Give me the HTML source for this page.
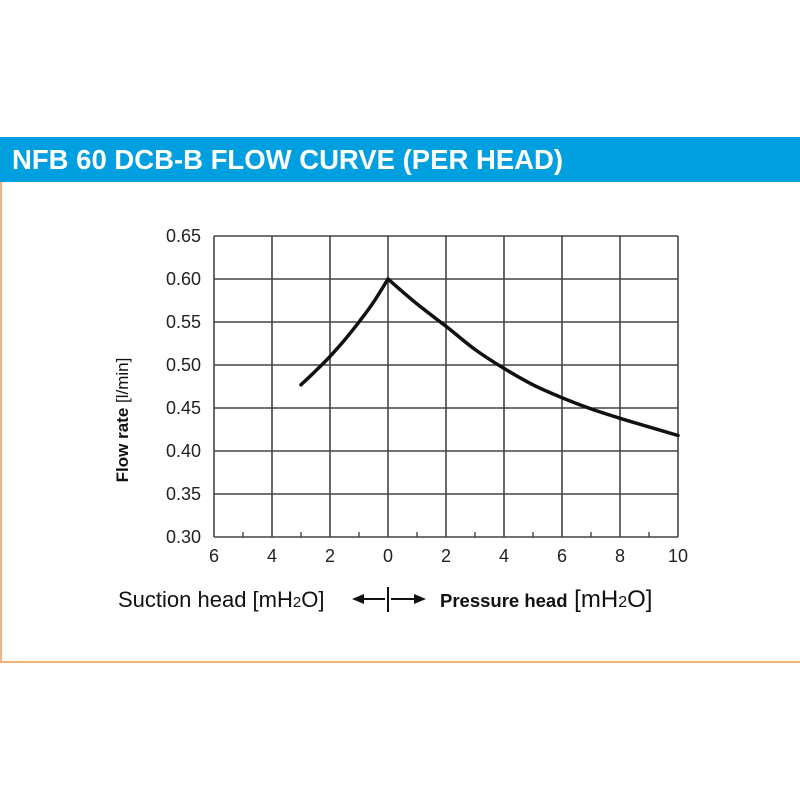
<!DOCTYPE html>
<html><head><meta charset="utf-8"><style>
body{margin:0;width:800px;height:800px;background:#fff;position:relative;font-family:"Liberation Sans",Arial,sans-serif;overflow:hidden}
#hdr{position:absolute;left:0;top:137px;width:800px;height:45px;background:#009fe0;color:#fff;font-weight:bold;font-size:27.5px;line-height:45px;padding-left:12px;box-sizing:border-box}
#panel{position:absolute;left:0;top:182px;width:800px;height:481px;border-left:2px solid #f3b27a;border-bottom:2px solid #f3b27a;box-sizing:border-box}
</style></head><body>
<div id="hdr">NFB 60 DCB-B FLOW CURVE (PER HEAD)</div>
<div id="panel"></div>
<svg id="c" width="800" height="800" style="position:absolute;left:0;top:0"></svg>
<script>
const xTicks=[-6,-4,-2,0,2,4,6,8,10];
const xTickLabels=["6","4","2","0","2","4","6","8","10"];
const yTicks=[0.30,0.35,0.40,0.45,0.50,0.55,0.60,0.65];
const suctionX=[-3,-2.5,-2,-1.5,-1,-0.5,0];
const suctionY=[0.477,0.493,0.51,0.529,0.55,0.573,0.60];
const pressureX=[0,1,2,3,4,5,6,7,8,9,10];
const pressureY=[0.60,0.571,0.545,0.518,0.496,0.477,0.462,0.449,0.438,0.428,0.418];
const NS="http://www.w3.org/2000/svg";
const svg=document.getElementById('c');
const X0=214,X1=678,Y0=537,Y1=236;
const sx=v=>X0+(v+6)/16*(X1-X0);
const sy=v=>Y0-(v-0.30)/0.35*(Y0-Y1);
function mk(t,a,p){const e=document.createElementNS(NS,t);for(const k in a)e.setAttribute(k,a[k]);(p||svg).appendChild(e);return e;}
function smooth(xs,ys){
 const P=xs.map((x,i)=>[sx(x),sy(ys[i])]);
 let d='M'+P[0][0].toFixed(1)+','+P[0][1].toFixed(1);
 for(let i=0;i<P.length-1;i++){
  const p0=P[Math.max(i-1,0)],p1=P[i],p2=P[i+1],p3=P[Math.min(i+2,P.length-1)];
  const c1=[p1[0]+(p2[0]-p0[0])/6,p1[1]+(p2[1]-p0[1])/6];
  const c2=[p2[0]-(p3[0]-p1[0])/6,p2[1]-(p3[1]-p1[1])/6];
  d+='C'+c1.map(v=>v.toFixed(1)).join(',')+' '+c2.map(v=>v.toFixed(1)).join(',')+' '+p2.map(v=>v.toFixed(1)).join(',');
 }
 return d;
}
const g=mk('g',{});


xTicks.forEach((v,i)=>{
 const l=mk('line',{x1:sx(v),x2:sx(v),y1:Y1,y2:Y0,stroke:'#444','stroke-width':1.6},g);
 
 
 const t=mk('text',{x:sx(v),y:Y0+25,'font-size':18,'text-anchor':'middle',fill:'#222'});
 t.textContent=xTickLabels[i];
 
 
 if(i<xTicks.length-1){const m=mk('line',{x1:sx(v+1),x2:sx(v+1),y1:Y0-5,y2:Y0,stroke:'#444','stroke-width':1.4},g);
 
 }
});
yTicks.forEach(v=>{
 const l=mk('line',{x1:X0,x2:X1,y1:sy(v),y2:sy(v),stroke:'#444','stroke-width':1.6},g);
 
 
 const t=mk('text',{x:X0-13,y:sy(v)+6,'font-size':18,'text-anchor':'end',fill:'#222'});
 t.textContent=v.toFixed(2);
 
 
});
const p1=mk('path',{d:smooth(suctionX,suctionY),fill:'none',stroke:'#111','stroke-width':3.5,'stroke-linecap':'round'});


const p2=mk('path',{d:smooth(pressureX,pressureY),fill:'none',stroke:'#111','stroke-width':3.5,'stroke-linecap':'round'});


const yt=mk('text',{x:0,y:0,transform:'translate(128,420) rotate(-90)','font-size':17,'text-anchor':'middle',fill:'#111'});
yt.innerHTML='<tspan font-weight="bold">Flow rate</tspan>  [l/min]';


const s=mk('text',{x:118,y:607,'font-size':22,fill:'#111'});
s.innerHTML='Suction head [mH<tspan font-size="15">2</tspan>O]';


const pr=mk('text',{x:440,y:607,'font-size':24,fill:'#111'});
pr.innerHTML='<tspan font-weight="bold" font-size="18.5">Pressure head</tspan> [mH<tspan font-size="16">2</tspan>O]';


const ar=mk('g',{stroke:'#111','stroke-width':2,fill:'#111'});


mk('line',{x1:388,x2:388,y1:587,y2:612},ar);
mk('line',{x1:360,x2:385,y1:599,y2:599},ar);
mk('polygon',{points:'352,599 364,594 364,604',stroke:'none'},ar);
mk('line',{x1:391,x2:416,y1:599,y2:599},ar);
mk('polygon',{points:'426,599 414,594 414,604',stroke:'none'},ar);
</script>
</body></html>
